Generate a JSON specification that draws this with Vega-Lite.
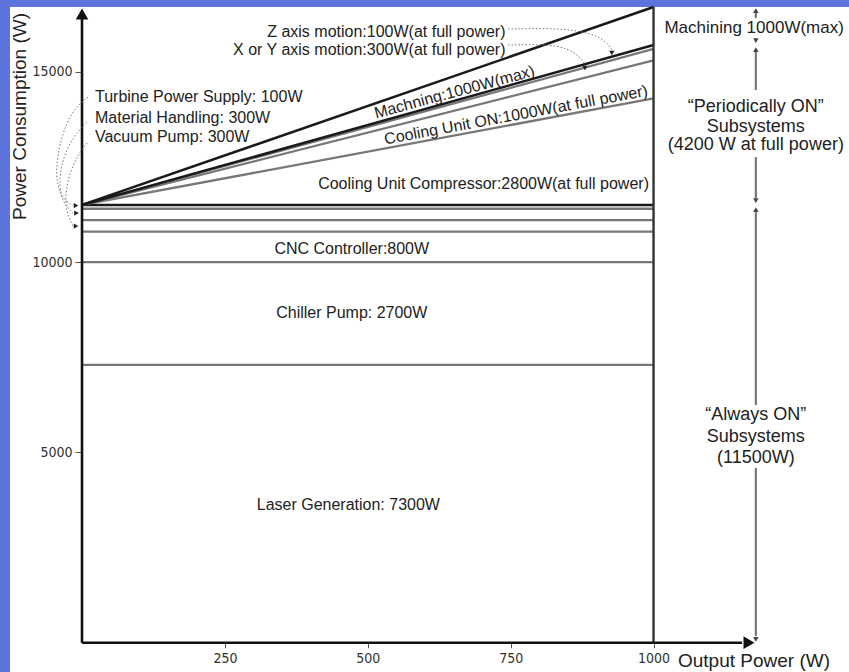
{
  "$schema": "https://vega.github.io/schema/vega-lite/v6.json",
  "width": 839,
  "height": 665,
  "autosize": {"type": "none"},
  "padding": {"left": 10, "top": 7, "right": 0, "bottom": 0},
  "background": "#5c74db",
  "config": {
    "view": {"fill": "white", "stroke": null},
    "font": "Liberation Sans, Arial, sans-serif",
    "text": {"font": "Liberation Sans, Arial, sans-serif", "fontSize": 16, "color": "#222"}
  },
  "datasets": {
    "segs": [
      {"x": 0, "x2": 1000, "y": 7300, "y2": 7300, "kind": "thin"},
      {"x": 0, "x2": 1000, "y": 10000, "y2": 10000, "kind": "thin"},
      {"x": 0, "x2": 1000, "y": 10800, "y2": 10800, "kind": "thin"},
      {"x": 0, "x2": 1000, "y": 11100, "y2": 11100, "kind": "thin"},
      {"x": 0, "x2": 1000, "y": 11400, "y2": 11400, "kind": "thin"},
      {"x": 0, "x2": 1000, "y": 11500, "y2": 11500, "kind": "bold"},
      {"x": 0, "x2": 1000, "y": 11500, "y2": 14300, "kind": "thin"},
      {"x": 0, "x2": 1000, "y": 11500, "y2": 15300, "kind": "thin"},
      {"x": 0, "x2": 1000, "y": 11500, "y2": 15600, "kind": "thin"},
      {"x": 0, "x2": 1000, "y": 11500, "y2": 15700, "kind": "bold"},
      {"x": 0, "x2": 1000, "y": 11500, "y2": 16700, "kind": "bold"},
      {"x": 1000, "x2": 1000, "y": 0, "y2": 16700, "kind": "edge"},
      {"x": 0, "x2": 0, "y": 0, "y2": 16450, "kind": "axis"},
      {"x": 0, "x2": 1155, "y": 0, "y2": 0, "kind": "axis"},
      {"x": 1179, "x2": 1179, "y": 16410, "y2": 16620, "kind": "dim"},
      {"x": 1179, "x2": 1179, "y": 14519, "y2": 15515, "kind": "dim"},
      {"x": 1179, "x2": 1179, "y": 11681, "y2": 12757, "kind": "dim"},
      {"x": 1179, "x2": 1179, "y": 6244, "y2": 11308, "kind": "dim"},
      {"x": 1179, "x2": 1179, "y": 174, "y2": 4587, "kind": "dim"}
    ],
    "arrows": [
      {"x": 0, "y": 16514, "dir": "up", "kind": "main"},
      {"x": 1167, "y": 0, "dir": "right", "kind": "main"},
      {"x": 1179, "y": 16606, "dir": "up", "kind": "dim"},
      {"x": 1179, "y": 15818, "dir": "down", "kind": "dim"},
      {"x": 1179, "y": 15582, "dir": "up", "kind": "dim"},
      {"x": 1179, "y": 11615, "dir": "down", "kind": "dim"},
      {"x": 1179, "y": 11379, "dir": "up", "kind": "dim"},
      {"x": 1179, "y": 84, "dir": "down", "kind": "dim"},
      {"x": -10.5, "y": 11484, "dir": "right", "kind": "note"},
      {"x": -9.6, "y": 11287, "dir": "right", "kind": "note"},
      {"x": -10.5, "y": 10946, "dir": "right", "kind": "note"},
      {"x": 927, "y": 15491, "dir": "down", "kind": "note"},
      {"x": 880, "y": 15095, "dir": "down", "kind": "note"}
    ],
    "curves": [
      {"c": "turbine", "i": 0, "x": 10.5, "y": 14334},
      {"c": "turbine", "i": 1, "x": -17.5, "y": 13993},
      {"c": "turbine", "i": 2, "x": -38.5, "y": 13205},
      {"c": "turbine", "i": 3, "x": -47.2, "y": 12338},
      {"c": "turbine", "i": 4, "x": -38.5, "y": 11708},
      {"c": "turbine", "i": 5, "x": -15.7, "y": 11492},
      {"c": "material", "i": 0, "x": 8.7, "y": 13677},
      {"c": "material", "i": 1, "x": -21, "y": 13205},
      {"c": "material", "i": 2, "x": -40.2, "y": 12415},
      {"c": "material", "i": 3, "x": -38.5, "y": 11627},
      {"c": "material", "i": 4, "x": -15.7, "y": 11287},
      {"c": "vacuum", "i": 0, "x": 8.7, "y": 13126},
      {"c": "vacuum", "i": 1, "x": -14, "y": 12680},
      {"c": "vacuum", "i": 2, "x": -29.7, "y": 11891},
      {"c": "vacuum", "i": 3, "x": -28, "y": 11313},
      {"c": "vacuum", "i": 4, "x": -15.7, "y": 10946},
      {"c": "z", "i": 0, "x": 745.3, "y": 16121},
      {"c": "z", "i": 1, "x": 836.3, "y": 16147},
      {"c": "z", "i": 2, "x": 892.2, "y": 16015},
      {"c": "z", "i": 3, "x": 918.5, "y": 15779},
      {"c": "z", "i": 4, "x": 927.2, "y": 15569},
      {"c": "xy", "i": 0, "x": 745.3, "y": 15700},
      {"c": "xy", "i": 1, "x": 810, "y": 15726},
      {"c": "xy", "i": 2, "x": 850.2, "y": 15621},
      {"c": "xy", "i": 3, "x": 871.2, "y": 15385},
      {"c": "xy", "i": 4, "x": 880, "y": 15201}
    ]
  },
  "encoding": {
    "x": {
      "field": "x", "type": "quantitative",
      "scale": {"domain": [-126, 1342], "nice": false, "zero": false},
      "axis": {
        "orient": "bottom", "offset": -29.3, "values": [250, 500, 750, 1000], "format": "d",
        "domain": false, "grid": false, "tickSize": 5, "tickColor": "#555", "tickWidth": 1,
        "labelFont": "Liberation Sans Narrow, DejaVu Sans Condensed, Arial Narrow, sans-serif",
        "labelFontSize": 14, "labelColor": "#333", "labelPadding": 4,
        "title": "Output Power (W)", "titleFont": "Liberation Sans, Arial, sans-serif",
        "titleFontSize": 19, "titleFontWeight": "normal", "titleColor": "#222",
        "titleX": 743.5, "titleY": 24, "titleAlign": "center", "titleBaseline": "alphabetic"
      }
    },
    "y": {
      "field": "y", "type": "quantitative",
      "scale": {"domain": [-770, 16700], "nice": false, "zero": false},
      "axis": {
        "orient": "left", "offset": -72, "values": [5000, 10000, 15000], "format": "d",
        "domain": false, "grid": false, "tickSize": 7, "tickColor": "#555", "tickWidth": 1,
        "labelFont": "Liberation Sans Narrow, DejaVu Sans Condensed, Arial Narrow, sans-serif",
        "labelFontSize": 14, "labelColor": "#333", "labelPadding": 3,
        "title": "Power Consumption (W)", "titleFont": "Liberation Sans, Arial, sans-serif",
        "titleFontSize": 19, "titleFontWeight": "normal", "titleColor": "#222",
        "titleX": -62.5, "titleY": 109, "titleAngle": 270, "titleAlign": "center", "titleBaseline": "middle"
      }
    }
  },
  "layer": [
    {
      "data": {"name": "segs"},
      "mark": {"type": "rule", "strokeCap": "butt"},
      "encoding": {
        "x2": {"field": "x2"},
        "y2": {"field": "y2"},
        "color": {"field": "kind", "type": "nominal", "legend": null,
          "scale": {"domain": ["axis", "bold", "edge", "thin", "dim"], "range": ["#111111", "#1a1a1a", "#333333", "#777777", "#777777"]}},
        "strokeWidth": {"field": "kind", "type": "nominal", "legend": null,
          "scale": {"domain": ["axis", "bold", "edge", "thin", "dim"], "range": [2.6, 2.2, 1.6, 0.9, 1.2]}}
      }
    },
    {
      "data": {"name": "curves"},
      "mark": {"type": "line", "interpolate": "basis", "strokeDash": [1.5, 2], "stroke": "#777", "strokeWidth": 1},
      "encoding": {
        "detail": {"field": "c", "type": "nominal"},
        "order": {"field": "i", "type": "quantitative"}
      }
    },
    {
      "data": {"name": "arrows"},
      "transform": [{"filter": "datum.kind === 'main'"}],
      "mark": {"type": "point", "filled": true, "size": 160, "color": "#111", "opacity": 1},
      "encoding": {
        "shape": {"field": "dir", "type": "nominal", "legend": null,
          "scale": {"domain": ["up", "down", "right"], "range": ["triangle-up", "triangle-down", "triangle-right"]}}
      }
    },
    {
      "data": {"name": "arrows"},
      "transform": [{"filter": "datum.kind === 'dim'"}],
      "mark": {"type": "point", "filled": true, "size": 30, "color": "#444", "opacity": 1},
      "encoding": {
        "shape": {"field": "dir", "type": "nominal", "legend": null}
      }
    },
    {
      "data": {"name": "arrows"},
      "transform": [{"filter": "datum.kind === 'note'"}],
      "mark": {"type": "point", "filled": true, "size": 28, "color": "#222", "opacity": 1},
      "encoding": {
        "shape": {"field": "dir", "type": "nominal", "legend": null}
      }
    },
    {
      "data": {"values": [
        {"label": "Turbine Power Supply: 100W", "x": 22.7, "y": 14342},
        {"label": "Material Handling: 300W", "x": 22.7, "y": 13775},
        {"label": "Vacuum Pump: 300W", "x": 22.7, "y": 13291}
      ]},
      "mark": {"type": "text", "align": "left", "baseline": "middle"},
      "encoding": {"text": {"field": "label"}}
    },
    {
      "data": {"values": [
        {"label": "Z axis motion:100W(at full power)", "x": 741, "y": 16049},
        {"label": "X or Y axis motion:300W(at full power)", "x": 741, "y": 15582},
        {"label": "Cooling Unit Compressor:2800W(at full power)", "x": 992, "y": 12046}
      ]},
      "mark": {"type": "text", "align": "right", "baseline": "middle"},
      "encoding": {"text": {"field": "label"}}
    },
    {
      "data": {"values": [
        {"label": "CNC Controller:800W", "x": 472, "y": 10341},
        {"label": "Chiller Pump: 2700W", "x": 472, "y": 8652},
        {"label": "Laser Generation: 7300W", "x": 466, "y": 3617}
      ]},
      "mark": {"type": "text", "align": "center", "baseline": "middle"},
      "encoding": {"text": {"field": "label"}}
    },
    {
      "data": {"values": [{"label": "Machning:1000W(max)", "x": 654, "y": 14334}]},
      "mark": {"type": "text", "align": "center", "baseline": "alphabetic", "angle": 345},
      "encoding": {"text": {"field": "label"}}
    },
    {
      "data": {"values": [{"label": "Cooling Unit ON:1000W(at full power)", "x": 761, "y": 13730}]},
      "mark": {"type": "text", "align": "center", "baseline": "alphabetic", "angle": 349.5},
      "encoding": {"text": {"field": "label"}}
    },
    {
      "data": {"values": [{"label": "Machining 1000W(max)", "x": 1176, "y": 16147}]},
      "mark": {"type": "text", "align": "center", "baseline": "middle", "fontSize": 17},
      "encoding": {"text": {"field": "label"}}
    },
    {
      "data": {"values": [
        {"label": "“Periodically ON”", "x": 1179, "y": 14069},
        {"label": "Subsystems", "x": 1179, "y": 13544},
        {"label": "(4200 W at full power)", "x": 1179, "y": 13063},
        {"label": "“Always ON”", "x": 1179, "y": 5975},
        {"label": "Subsystems", "x": 1179, "y": 5397},
        {"label": "(11500W)", "x": 1179, "y": 4846}
      ]},
      "mark": {"type": "text", "align": "center", "baseline": "middle", "fontSize": 18},
      "encoding": {"text": {"field": "label"}}
    }
  ]
}
